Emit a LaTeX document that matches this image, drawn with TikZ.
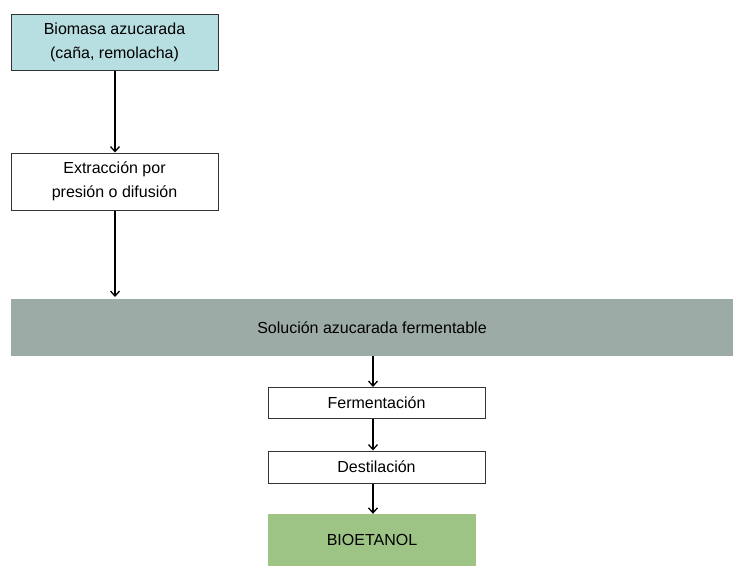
\documentclass[tikz,border=0pt]{standalone}
\usepackage{fontspec}
\setmainfont{Liberation Sans}
\usetikzlibrary{arrows.meta}
\definecolor{cyanbox}{HTML}{B7DEE0}
\definecolor{graybar}{HTML}{9DABA6}
\definecolor{greenbox}{HTML}{9DC385}
\definecolor{edge}{HTML}{333333}
\tikzset{
  txt/.style={font=\fontsize{16}{24}\selectfont, align=center, inner sep=0pt},
  procbox/.style={txt, draw=edge, line width=1pt, fill=white},
  arr/.style={-{Straight Barb[length=5pt,width=9pt]}, line width=1.3pt, black}
}
\begin{document}
\begin{tikzpicture}[x=1pt,y=-1pt]
\fill[white] (0,0) rectangle (733,566);
\useasboundingbox (0,0) rectangle (733,566);
\node[procbox, fill=cyanbox, minimum width=207pt, minimum height=56pt] (bio) at (114.5,42) {Biomasa azucarada\\(caña, remolacha)};
\node[procbox, minimum width=207pt, minimum height=57pt] (ext) at (114.5,181.5) {Extracción por\\presión o difusión};
\node[txt, fill=graybar, minimum width=722pt, minimum height=57pt] (sol) at (372,327.5) {Solución azucarada fermentable};
\node[procbox, minimum width=217pt, minimum height=31pt] (fer) at (376.5,403) {Fermentación};
\node[procbox, minimum width=217pt, minimum height=32pt] (des) at (376.5,467) {Destilación};
\node[txt, fill=greenbox, minimum width=208pt, minimum height=52pt] (eta) at (372,540) {BIOETANOL};
\coordinate (ax) at (115,0);
\coordinate (bx) at (373,0);
\coordinate (endext) at (115,297);
\draw[arr] (bio.south -| ax) -- (ext.north -| ax);
\draw[arr] (ext.south -| ax) -- (endext);
\draw[arr] (sol.south -| bx) -- (fer.north -| bx);
\draw[arr] (fer.south -| bx) -- (des.north -| bx);
\draw[arr] (des.south -| bx) -- (eta.north -| bx);
\end{tikzpicture}
\end{document}
